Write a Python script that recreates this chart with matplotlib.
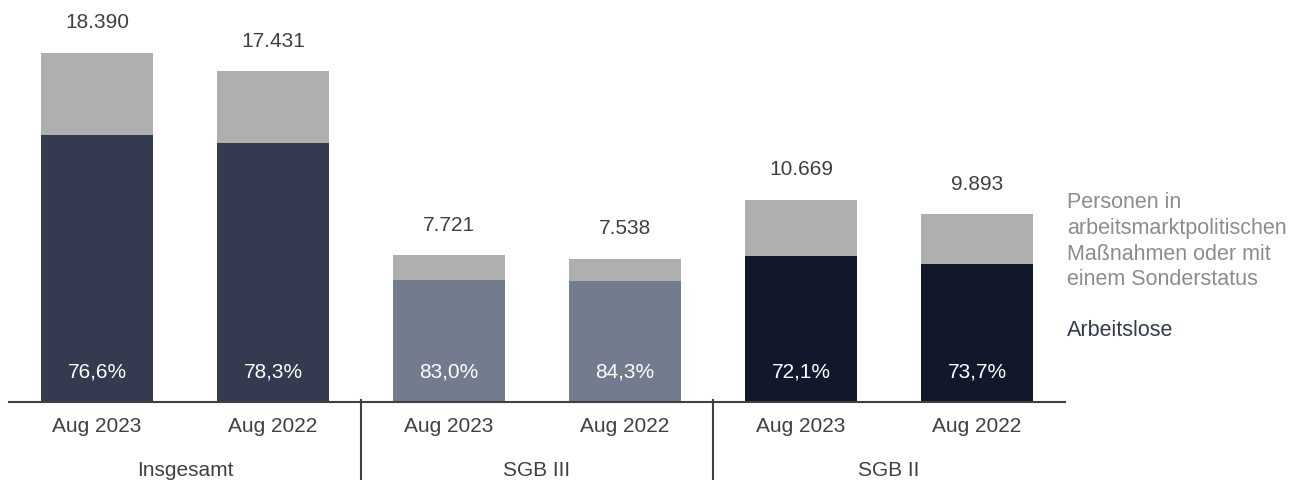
import matplotlib
matplotlib.use('Agg')
import matplotlib.pyplot as plt

plt.rcParams['font.family'] = ['Liberation Sans', 'DejaVu Sans']

# Daten
zeitpunkte = ['Aug 2023', 'Aug 2022', 'Aug 2023', 'Aug 2022', 'Aug 2023', 'Aug 2022']
gruppen = ['Insgesamt', 'SGB III', 'SGB II']
gesamt = [18390, 17431, 7721, 7538, 10669, 9893]
arbeitslose = [14087, 13648, 6408, 6355, 7692, 7291]
anteil = ['76,6%', '78,3%', '83,0%', '84,3%', '72,1%', '73,7%']
gesamt_label = ['18.390', '17.431', '7.721', '7.538', '10.669', '9.893']

farben_al = ['#343a4f', '#343a4f', '#737b8e', '#737b8e', '#12182b', '#12182b']
grau = '#afafaf'
textfarbe = '#404040'

fig = plt.figure(figsize=(12.94, 4.8), dpi=100)
ax = fig.add_axes([9 / 1294, 78 / 480, 1056 / 1294, 402 / 480])

x = list(range(len(gesamt)))
sonst = [g - a for g, a in zip(gesamt, arbeitslose)]
ax.bar(x, arbeitslose, width=0.64, color=farben_al)
ax.bar(x, sonst, width=0.64, bottom=arbeitslose, color=grau)

for i in x:
    ax.annotate(gesamt_label[i], xy=(i, gesamt[i]), xytext=(0, 21.6),
                textcoords='offset points', ha='center', va='center',
                fontsize=15, color=textfarbe)
    ax.annotate(anteil[i], xy=(i, 0), xytext=(0, 21.6),
                textcoords='offset points', ha='center', va='center',
                fontsize=15, color='white')
    ax.annotate(zeitpunkte[i], xy=(i, 0), xycoords=('data', 'axes fraction'),
                xytext=(0, -18), textcoords='offset points',
                ha='center', va='center', fontsize=15, color=textfarbe,
                annotation_clip=False)

for k, name in enumerate(gruppen):
    ax.annotate(name, xy=(2 * k + 0.5, 0), xycoords=('data', 'axes fraction'),
                xytext=(0, -49), textcoords='offset points',
                ha='center', va='center', fontsize=15, color=textfarbe,
                annotation_clip=False)

# Trennlinien zwischen den Gruppen
for xd in [1.5, 3.5]:
    ax.plot([xd, xd], [0.005, -0.2], transform=ax.get_xaxis_transform(),
            color=textfarbe, lw=1.5, clip_on=False)

ax.set_xlim(-0.5, 5.5)
ax.set_ylim(0, 21180)
for s in ['top', 'right', 'left']:
    ax.spines[s].set_visible(False)
ax.spines['bottom'].set_color(textfarbe)
ax.spines['bottom'].set_linewidth(1.5)
ax.set_xticks([])
ax.set_yticks([])

# Legende als Text
fig.text(1067 / 1294, 1 - 192 / 480,
         'Personen in\narbeitsmarktpolitischen\nMaßnahmen oder mit\neinem Sonderstatus',
         ha='left', va='top', fontsize=15.5, color='#8c8c8c', linespacing=1.3)
fig.text(1067 / 1294, 1 - 331 / 480, 'Arbeitslose',
         ha='left', va='center', fontsize=15.5, color='#343a4f')

fig.savefig('out.png', dpi=100)
